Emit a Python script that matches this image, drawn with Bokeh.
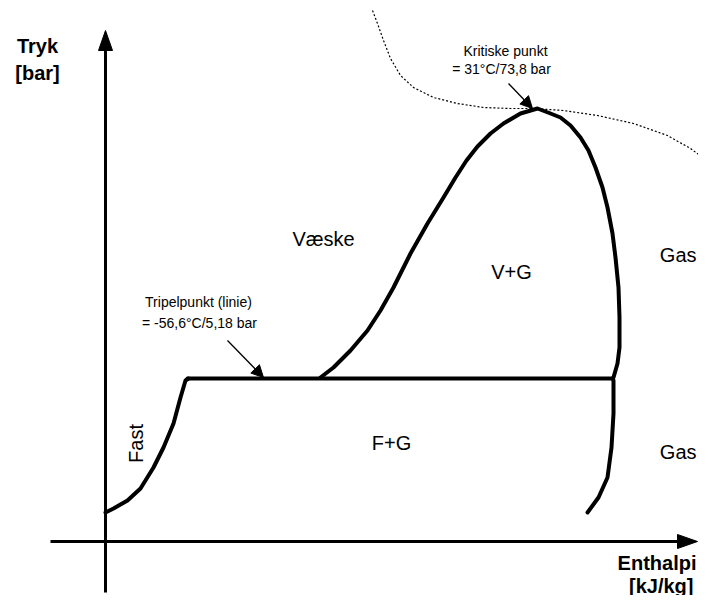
import math
from bokeh.plotting import figure
from bokeh.models import Range1d, Arrow, NormalHead
from bokeh.core.properties import value
from bokeh.embed import file_html
from bokeh.resources import INLINE

# ---- schematic data (reference pixel coordinates, y downwards) ----
# axes: start and tip points
yaxis_x = [105, 105]
yaxis_y = [592, 30]
xaxis_x = [50, 697]
xaxis_y = [541, 541]

# solid / solid+gas boundary ("Fast")
fast_x = [105, 113, 127, 140, 153, 163, 173, 180, 185, 188]
fast_y = [512, 508, 500, 488, 467, 447, 423, 397, 380, 378]

# triple-point line
triple_x = [187, 612]
triple_y = [378, 378]

# saturation dome (liquid -> critical point -> vapour)
dome_x = [320, 333, 350, 367, 380, 393, 410, 427, 443, 455, 466, 477, 490, 503, 520, 537,
          550, 560, 570, 580, 588, 595, 602, 607, 612, 615, 618, 619, 619, 617, 613]
dome_y = [377, 367, 350, 330, 310, 287, 253, 223, 197, 177, 160, 146, 133, 123, 113, 108,
          113, 117, 125, 137, 150, 167, 187, 207, 233, 257, 287, 317, 347, 363, 377]

# sublimation branch below the triple line
gas_x = [612, 613, 613, 611, 607, 598, 587]
gas_y = [378, 380, 413, 447, 477, 497, 512]

# dotted isotherm through the critical point
dot_x = [372, 377, 383, 390, 400, 413, 433, 457, 483, 510, 533, 563, 597, 633, 667, 690, 713]
dot_y = [10, 23, 40, 58, 75, 87, 97, 103, 107, 108, 108, 110, 115, 123, 135, 148, 165]

# region labels (centred)
region_text = ["Væske", "V+G", "F+G"]
region_x = [323, 511, 391]
region_y = [238, 271, 442]

# right-hand labels (right-aligned)
right_text = ["Gas", "Gas"]
right_x = [696, 696]
right_y = [254, 451]

# axis titles
ytitle_text = ["Tryk", "[bar]"]
ytitle_x = [37, 37]
ytitle_y = [45, 72]
xtitle_text = ["Enthalpi", "[kJ/kg]"]
xtitle_x = [696, 693]
xtitle_y = [562, 585]

# annotations
note_text = ["Kritiske punkt", "= 31°C/73,8 bar", "Tripelpunkt (linie)", "= -56,6°C/5,18 bar"]
note_x = [505, 501, 198, 199]
note_y = [50, 68, 301, 322]

crit_arrow = (508, 83, 532, 108)
trip_arrow = (227, 340, 263, 377)

HEAD_LEN = 20
HEAD_W = 14

p = figure(width=698, height=595, x_range=Range1d(0, 698), y_range=Range1d(595, 0),
           output_backend="svg", toolbar_location=None, min_border=0)
p.axis.visible = False
p.grid.visible = False
p.outline_line_color = None
p.background_fill_color = "white"

# axes
p.line(yaxis_x, [yaxis_y[0], yaxis_y[1] + HEAD_LEN - 2], line_color="black", line_width=3)
p.line([xaxis_x[0], xaxis_x[1] - HEAD_LEN + 2], xaxis_y, line_color="black", line_width=3)
tx, ty = yaxis_x[1], yaxis_y[1]
p.patch([tx, tx - HEAD_W / 2, tx + HEAD_W / 2], [ty, ty + HEAD_LEN, ty + HEAD_LEN],
        fill_color="black", line_color="black")
tx, ty = xaxis_x[1], xaxis_y[1]
p.patch([tx, tx - HEAD_LEN, tx - HEAD_LEN], [ty, ty - HEAD_W / 2, ty + HEAD_W / 2],
        fill_color="black", line_color="black")

# curves
p.line(dot_x, dot_y, line_color="black", line_width=1.2, line_dash="2 2")
for xs, ys in [(fast_x, fast_y), (triple_x, triple_y), (dome_x, dome_y), (gas_x, gas_y)]:
    p.line(xs, ys, line_color="black", line_width=4, line_join="round", line_cap="round")

# annotation arrows
for (x0, y0, x1, y1) in [crit_arrow, trip_arrow]:
    p.add_layout(Arrow(x_start=x0, y_start=y0, x_end=x1, y_end=y1, line_width=1.3,
                       line_color="black",
                       end=NormalHead(size=12, fill_color="black", line_color="black")))

font = value("Liberation Sans")
p.text(region_x, region_y, text=region_text, text_font=font, text_font_size="20px",
       text_align="center", text_baseline="middle", text_color="black")
p.text(right_x, right_y, text=right_text, text_font=font, text_font_size="20px",
       text_align="right", text_baseline="middle", text_color="black")
p.text([135], [443], text=["Fast"], angle=math.pi / 2, text_font=font, text_font_size="20px",
       text_align="center", text_baseline="middle", text_color="black")
p.text(ytitle_x, ytitle_y, text=ytitle_text, text_font=font, text_font_size="20px",
       text_font_style="bold", text_align="center", text_baseline="middle", text_color="black")
p.text(xtitle_x, xtitle_y, text=xtitle_text, text_font=font, text_font_size="20px",
       text_font_style="bold", text_align="right", text_baseline="middle", text_color="black")
p.text(note_x, note_y, text=note_text, text_font=font, text_font_size="14px",
       text_align="center", text_baseline="middle", text_color="black")

open("out.html", "w").write(file_html(p, INLINE))
